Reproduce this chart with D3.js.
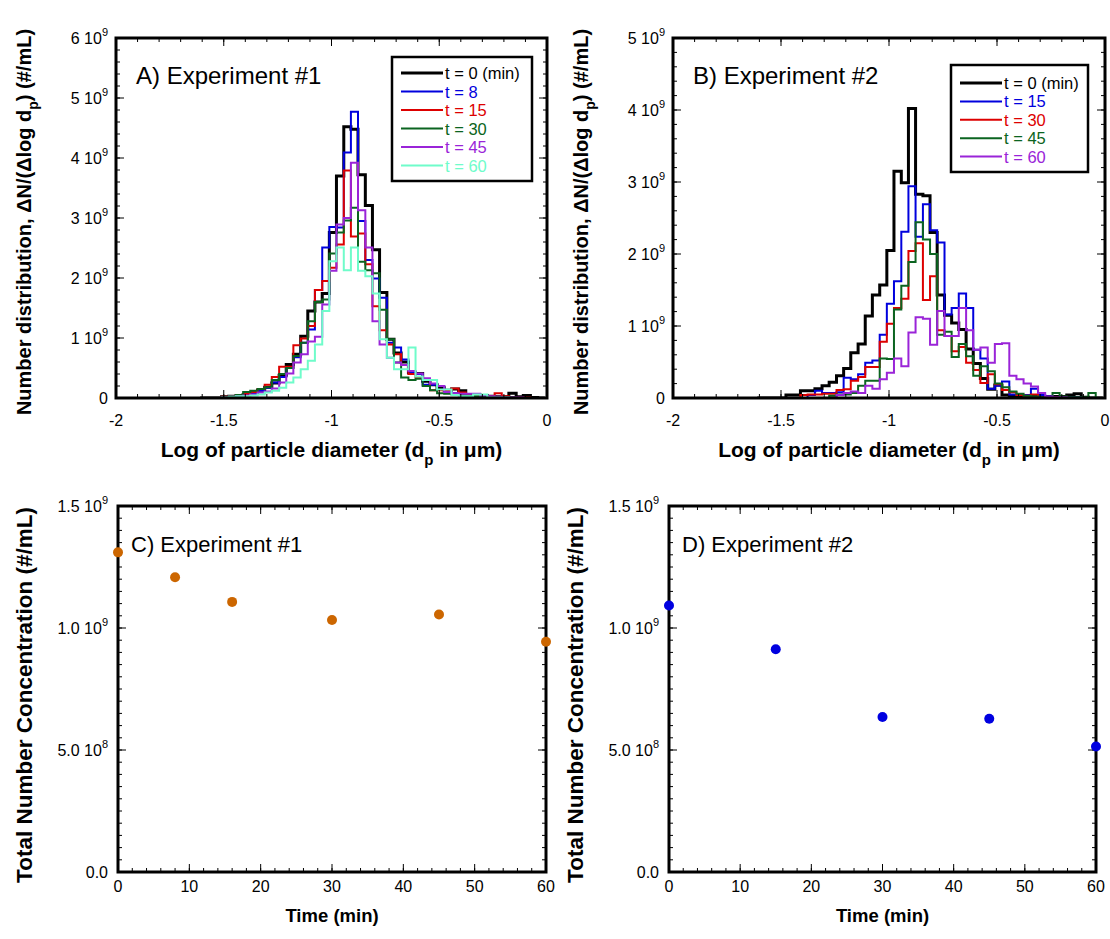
<!DOCTYPE html>
<html>
<head>
<meta charset="utf-8">
<script src="https://cdn.jsdelivr.net/npm/d3@7/dist/d3.min.js"></script>
<style>
  body { margin: 0; background: #fff; }
  svg text { font-family: "Liberation Sans", Arial, sans-serif; }
</style>
</head>
<body>
<div id="chart"></div>
<script>
// bin edges, log10 of particle diameter (um)
const binEdges = [-1.61, -1.577, -1.543, -1.51, -1.477, -1.443, -1.41, -1.377, -1.343, -1.31,
  -1.277, -1.243, -1.21, -1.177, -1.143, -1.11, -1.077, -1.043, -1.01, -0.977,
  -0.943, -0.91, -0.877, -0.843, -0.81, -0.777, -0.743, -0.71, -0.677, -0.643,
  -0.61, -0.577, -0.543, -0.51, -0.477, -0.443, -0.41, -0.377, -0.343, -0.31,
  -0.277, -0.243, -0.21, -0.177, -0.143, -0.11, -0.077, -0.043, -0.01];

// experiment 1 number distributions (units of 1e9 #/mL)
const exp1_t0 = [0, 0, 0, 0.02, 0.03, 0.04, 0.06, 0.09, 0.13, 0.18, 0.25, 0.38, 0.56, 0.73, 1.03, 1.45, 1.60, 1.74, 2.76, 3.70,
  4.52, 4.48, 3.72, 3.21, 2.47, 1.76, 0.98, 0.75, 0.60, 0.42, 0.41, 0.28, 0.22, 0.17, 0.13, 0.15, 0.12, 0.06, 0.05, 0.04,
  0.03, 0.02, 0.02, 0.08, 0.02, 0.04, 0.01, 0];
const exp1_t8 = [0, 0, 0, 0.01, 0.02, 0.03, 0.05, 0.08, 0.12, 0.17, 0.26, 0.35, 0.50, 0.68, 0.92, 1.14, 1.80, 2.51, 2.85, 2.84,
  4.09, 4.77, 2.95, 2.30, 1.99, 1.67, 0.92, 0.84, 0.64, 0.42, 0.40, 0.22, 0.22, 0.20, 0.12, 0.08, 0.07, 0.05, 0.04, 0.05,
  0.02, 0.01, 0.01, 0.01, 0.01, 0, 0, 0];
const exp1_t15 = [0, 0, 0, 0.02, 0.03, 0.05, 0.07, 0.10, 0.15, 0.22, 0.35, 0.52, 0.52, 0.88, 0.99, 1.20, 1.80, 1.95, 2.17, 2.56,
  3.79, 2.69, 2.74, 2.23, 1.53, 1.13, 0.89, 0.73, 0.55, 0.40, 0.35, 0.30, 0.13, 0.13, 0.12, 0.16, 0.09, 0.05, 0.04, 0.03,
  0.03, 0.08, 0.03, 0.01, 0.01, 0.01, 0, 0];
const exp1_t30 = [0, 0, 0, 0.01, 0.03, 0.05, 0.10, 0.12, 0.15, 0.18, 0.30, 0.40, 0.50, 0.70, 0.92, 1.28, 1.60, 1.64, 2.41, 2.76,
  2.96, 3.17, 2.27, 2.13, 2.08, 1.47, 0.98, 0.59, 0.34, 0.30, 0.32, 0.20, 0.13, 0.08, 0.07, 0.06, 0.05, 0.04, 0.03, 0.02,
  0.02, 0.01, 0.01, 0.01, 0, 0, 0, 0];
const exp1_t45 = [0, 0, 0, 0.01, 0.02, 0.03, 0.04, 0.06, 0.09, 0.11, 0.16, 0.26, 0.41, 0.59, 0.73, 0.94, 1.02, 1.56, 2.12, 2.89,
  3.00, 3.92, 3.13, 2.51, 1.28, 0.89, 0.67, 0.59, 0.55, 0.45, 0.41, 0.33, 0.24, 0.20, 0.10, 0.08, 0.07, 0.07, 0.07, 0.04,
  0.03, 0.02, 0.01, 0.01, 0.01, 0, 0, 0];
const exp1_t60 = [0, 0, 0, 0.01, 0.02, 0.03, 0.03, 0.04, 0.06, 0.09, 0.12, 0.17, 0.26, 0.34, 0.48, 0.62, 0.89, 1.45, 2.28, 2.51,
  2.13, 2.51, 2.12, 2.03, 1.74, 0.98, 0.67, 0.48, 0.48, 0.84, 0.36, 0.30, 0.30, 0.14, 0.14, 0.05, 0.03, 0.03, 0.06, 0.06,
  0.01, 0.01, 0.01, 0, 0, 0, 0, 0];

// experiment 2 number distributions (units of 1e9 #/mL)
const exp2_t0 = [0, 0, 0, 0, 0.04, 0.04, 0.10, 0.10, 0.13, 0.17, 0.22, 0.31, 0.41, 0.63, 0.75, 1.14, 1.43, 1.57, 2.05, 3.15,
  2.99, 4.02, 2.83, 2.81, 2.30, 1.43, 1.15, 1.04, 0.95, 0.68, 0.48, 0.27, 0.12, 0.18, 0.04, 0.03, 0.02, 0.02, 0.02, 0.02,
  0.02, 0.02, 0.02, 0.04, 0.06, 0.01, 0, 0];
const exp2_t15 = [0, 0, 0, 0, 0, 0, 0, 0.04, 0.10, 0.07, 0.07, 0.08, 0.28, 0.26, 0.33, 0.49, 0.52, 0.88, 1.31, 1.62,
  2.31, 2.94, 2.24, 2.69, 2.33, 2.16, 1.16, 1.25, 1.45, 1.25, 0.67, 0.55, 0.13, 0.17, 0.23, 0.05, 0.04, 0.04, 0.13, 0.04,
  0.02, 0.01, 0.01, 0.01, 0.01, 0, 0, 0];
const exp2_t30 = [0, 0, 0, 0, 0, 0, 0.04, 0.05, 0.05, 0.06, 0.06, 0.11, 0.12, 0.24, 0.29, 0.43, 0.43, 0.78, 1.03, 1.25,
  1.38, 2.04, 2.15, 1.36, 1.69, 0.94, 0.86, 0.65, 0.71, 0.49, 0.39, 0.21, 0.33, 0.19, 0.11, 0.08, 0.04, 0.03, 0.05, 0.01,
  0.01, 0.01, 0.01, 0, 0, 0, 0, 0];
const exp2_t45 = [0, 0, 0, 0, 0, 0, 0, 0, 0, 0, 0.03, 0.05, 0.05, 0.07, 0.17, 0.24, 0.24, 0.55, 0.54, 1.23,
  1.56, 1.89, 2.44, 2.20, 2.00, 0.88, 0.92, 0.57, 0.75, 0.58, 0.31, 0.44, 0.37, 0.20, 0.15, 0.09, 0.06, 0.03, 0.02, 0.01,
  0.01, 0.07, 0.02, 0.01, 0.01, 0.01, 0.07, 0];
const exp2_t60 = [0, 0, 0, 0, 0, 0, 0, 0, 0, 0, 0, 0.04, 0.07, 0.09, 0.07, 0.17, 0.13, 0.26, 0.35, 0.55,
  0.44, 0.91, 1.12, 1.10, 0.74, 1.21, 0.86, 0.86, 1.25, 0.94, 0.67, 0.70, 0.49, 0.75, 0.76, 0.31, 0.26, 0.20, 0.16, 0.07,
  0.02, 0.01, 0.01, 0, 0, 0, 0, 0];

const exp1Labels = ['t = 0 (min)', 't = 8', 't = 15', 't = 30', 't = 45', 't = 60'];
const exp2Labels = ['t = 0 (min)', 't = 15', 't = 30', 't = 45', 't = 60'];
const exp1Colors = ['#000000', '#0000dd', '#dd0000', '#0b6420', '#9a24d8', '#6ffcca'];
const exp2Colors = ['#000000', '#0000dd', '#dd0000', '#0b6420', '#9a24d8'];

// total number concentration (units of 1e9 #/mL)
const exp1Times = [0, 8, 16, 30, 45, 60];
const exp1Total = [1.31, 1.208, 1.107, 1.033, 1.055, 0.944];
const exp2Times = [0, 15, 30, 45, 60];
const exp2Total = [1.092, 0.913, 0.635, 0.628, 0.514];

const logTicks = [-2, -1.5, -1, -0.5, 0];
const logTickText = ['-2', '-1.5', '-1', '-0.5', '0'];
const distTicksA = [0, 1, 2, 3, 4, 5, 6];
const distTextA = ['0', '1 10^9', '2 10^9', '3 10^9', '4 10^9', '5 10^9', '6 10^9'];
const distTicksB = [0, 1, 2, 3, 4, 5];
const distTextB = ['0', '1 10^9', '2 10^9', '3 10^9', '4 10^9', '5 10^9'];
const timeTicks = [0, 10, 20, 30, 40, 50, 60];
const totalTicks = [0, 0.5, 1.0, 1.5];
const totalText = ['0.0', '5.0 10^8', '1.0 10^9', '1.5 10^9'];

const svg = d3.select('#chart').append('svg')
  .attr('width', 1110)
  .attr('height', 939);

function addText(sel, str, supSize) {
  const parts = str.split('^');
  sel.append('tspan').text(parts[0]);
  if (parts[1]) sel.append('tspan').attr('dy', -8).attr('font-size', supSize).text(parts[1]);
}

function frame(box, x, y, xMajor, xMinor, yMajor, yMinor) {
  const g = svg.append('g');
  const xt = xMinor.map(v => [v, 4]).concat(xMajor.map(v => [v, 8]));
  const yt = yMinor.map(v => [v, 4]).concat(yMajor.map(v => [v, 8]));
  xt.forEach(d => {
    g.append('line').attr('x1', x(d[0])).attr('x2', x(d[0])).attr('y1', box.b).attr('y2', box.b - d[1]);
    g.append('line').attr('x1', x(d[0])).attr('x2', x(d[0])).attr('y1', box.t).attr('y2', box.t + d[1]);
  });
  yt.forEach(d => {
    g.append('line').attr('y1', y(d[0])).attr('y2', y(d[0])).attr('x1', box.l).attr('x2', box.l + d[1]);
    g.append('line').attr('y1', y(d[0])).attr('y2', y(d[0])).attr('x1', box.r).attr('x2', box.r - d[1]);
  });
  g.selectAll('line').attr('stroke', '#000').attr('stroke-width', 1);
  g.append('rect')
    .attr('x', box.l).attr('y', box.t)
    .attr('width', box.r - box.l).attr('height', box.b - box.t)
    .attr('fill', 'none').attr('stroke', '#000').attr('stroke-width', 3);
}

function tickLabels(box, x, y, xVals, xText, yVals, yText, xOff, yOff) {
  xVals.forEach((v, i) => {
    svg.append('text').attr('x', x(v)).attr('y', box.b + xOff)
      .attr('text-anchor', 'middle').attr('font-size', 16).text(xText[i]);
  });
  yVals.forEach((v, i) => {
    const t = svg.append('text').attr('x', box.l - yOff).attr('y', y(v) + 6)
      .attr('text-anchor', 'end').attr('font-size', 16);
    addText(t, yText[i], 11);
  });
}

function histPanel(box, yMax, yTicks, yText, series, colors, labels, title, legendBox) {
  const x = d3.scaleLinear().domain([-2, 0]).range([box.l, box.r]);
  const y = d3.scaleLinear().domain([0, yMax]).range([box.b, box.t]);
  const id = 'clip' + box.l;
  svg.append('clipPath').attr('id', id).append('rect')
    .attr('x', box.l).attr('y', box.t).attr('width', box.r - box.l).attr('height', box.b - box.t);

  const line = d3.line().curve(d3.curveStepAfter).x(d => x(d[0])).y(d => y(d[1]));
  const plot = svg.append('g').attr('clip-path', `url(#${id})`);
  series.forEach((vals, k) => {
    const pts = binEdges.map((e, i) => [e, vals[Math.min(i, vals.length - 1)]]);
    plot.append('path')
      .attr('d', line(pts))
      .attr('fill', 'none')
      .attr('stroke', colors[k])
      .attr('stroke-width', k === 0 ? 3 : 2);
  });

  frame(box, x, y, logTicks, d3.range(-2, 0.001, 0.1),
    yTicks, d3.range(0, yMax + 0.001, 0.2));
  tickLabels(box, x, y, logTicks, logTickText, yTicks, yText, 28, 8);

  svg.append('text').attr('x', box.l + 20).attr('y', box.t + 46)
    .attr('font-size', 24).text(title);

  // legend
  const lg = legendBox;
  svg.append('rect').attr('x', lg.x).attr('y', lg.y).attr('width', lg.w).attr('height', lg.h)
    .attr('fill', '#fff').attr('stroke', '#000').attr('stroke-width', 2.5);
  labels.forEach((lab, k) => {
    const ry = lg.y + lg.row0 + k * lg.step;
    svg.append('line').attr('x1', lg.x + 9).attr('x2', lg.x + 51).attr('y1', ry).attr('y2', ry)
      .attr('stroke', colors[k]).attr('stroke-width', k === 0 ? 3 : 2);
    svg.append('text').attr('x', lg.x + 53).attr('y', ry + 6)
      .attr('font-size', 16.5).attr('fill', colors[k]).text(lab);
  });

  // axis titles
  const cx = (box.l + box.r) / 2;
  const xt = svg.append('text').attr('x', cx).attr('y', box.b + 59)
    .attr('text-anchor', 'middle').attr('font-size', 21).attr('font-weight', 'bold');
  xt.append('tspan').text('Log of particle diameter (d');
  xt.append('tspan').attr('dy', 8).attr('font-size', 15).text('p');
  xt.append('tspan').attr('dy', -8).text(' in \u03bcm)');

  const yt = svg.append('text')
    .attr('transform', `translate(${box.l - 85},${(box.t + box.b) / 2 + 4}) rotate(-90)`)
    .attr('text-anchor', 'middle').attr('font-size', 20).attr('font-weight', 'bold');
  yt.append('tspan').text('Number distribution, \u0394N/(\u0394log d');
  yt.append('tspan').attr('dy', 7).attr('font-size', 14).text('p');
  yt.append('tspan').attr('dy', -7).text(') (#/mL)');
}

function totalPanel(box, times, totals, color, title) {
  const x = d3.scaleLinear().domain([0, 60]).range([box.l, box.r]);
  const y = d3.scaleLinear().domain([0, 1.5]).range([box.b, box.t]);

  frame(box, x, y, timeTicks, d3.range(0, 60.001, 2), totalTicks, d3.range(0, 1.5001, 0.05));
  tickLabels(box, x, y, timeTicks, timeTicks.map(String), totalTicks, totalText, 20, 10);

  svg.append('g').selectAll('circle')
    .data(times.map((t, i) => [t, totals[i]]))
    .enter().append('circle')
    .attr('cx', d => x(d[0]))
    .attr('cy', d => y(d[1]))
    .attr('r', 5)
    .attr('fill', color);

  svg.append('text').attr('x', box.l + 13).attr('y', box.t + 46)
    .attr('font-size', 22).text(title);

  svg.append('text').attr('x', (box.l + box.r) / 2).attr('y', box.b + 50)
    .attr('text-anchor', 'middle').attr('font-size', 18.5).attr('font-weight', 'bold')
    .text('Time (min)');
  svg.append('text')
    .attr('transform', `translate(${box.l - 86},${(box.t + box.b) / 2 + 6}) rotate(-90)`)
    .attr('text-anchor', 'middle').attr('font-size', 22.5).attr('font-weight', 'bold')
    .text('Total Number Concentration (#/mL)');
}

histPanel({l: 116, r: 547, t: 38, b: 398}, 6, distTicksA, distTextA,
  [exp1_t0, exp1_t8, exp1_t15, exp1_t30, exp1_t45, exp1_t60],
  exp1Colors, exp1Labels, 'A) Experiment #1',
  {x: 392, y: 57, w: 140, h: 124, row0: 16, step: 18.5});

histPanel({l: 673, r: 1105, t: 38, b: 398}, 5, distTicksB, distTextB,
  [exp2_t0, exp2_t15, exp2_t30, exp2_t45, exp2_t60],
  exp2Colors, exp2Labels, 'B) Experiment #2',
  {x: 951, y: 65, w: 137, h: 107, row0: 18, step: 18.4});

totalPanel({l: 118, r: 546, t: 506, b: 872}, exp1Times, exp1Total, '#cc6600', 'C) Experiment #1');
totalPanel({l: 669, r: 1096, t: 506, b: 872}, exp2Times, exp2Total, '#0000e0', 'D) Experiment #2');
</script>
</body>
</html>
